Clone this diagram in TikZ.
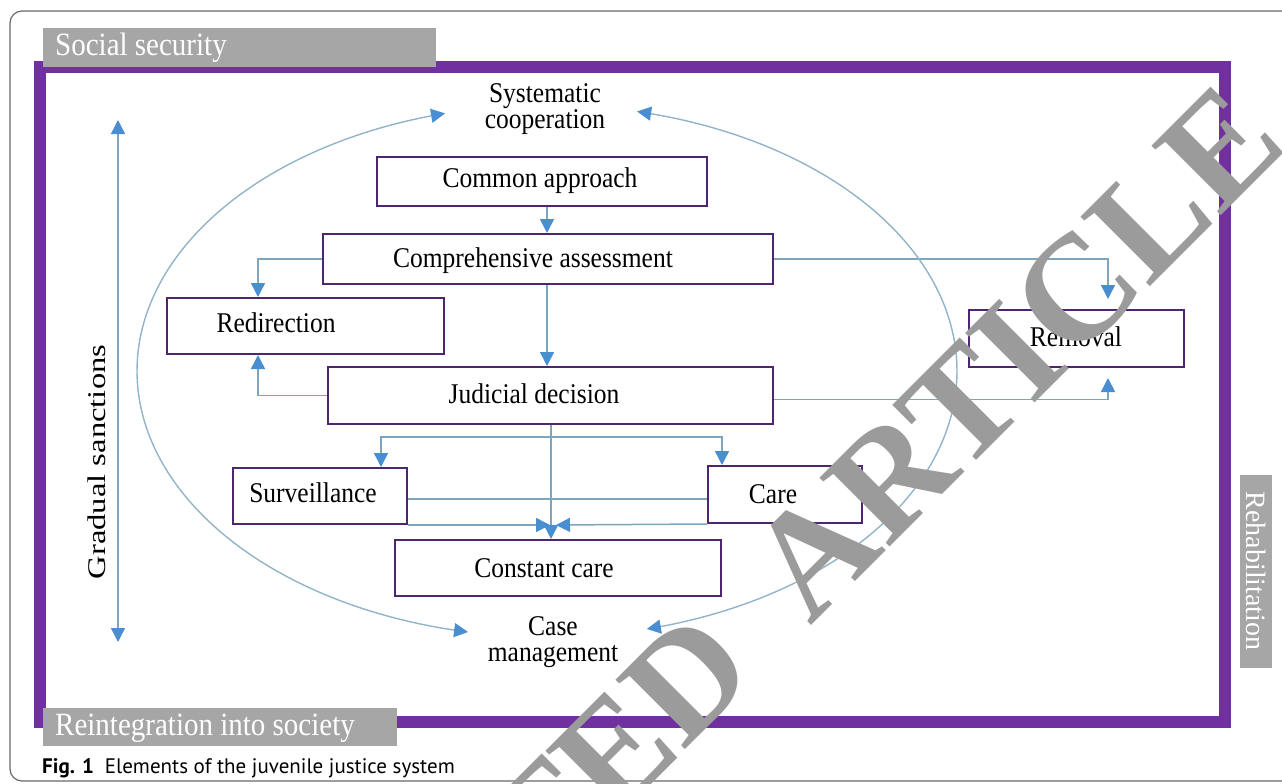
\documentclass[tikz,border=0pt]{standalone}
\usepackage{fontspec}
\usepackage{graphicx}
\setmainfont{Liberation Serif}
\newfontfamily\capfont{PT Sans}
\usetikzlibrary{arrows.meta,calc}
\definecolor{frameP}{RGB}{112,48,160}
\definecolor{boxP}{RGB}{78,38,112}
\definecolor{lineB}{RGB}{125,165,190}
\definecolor{ellB}{RGB}{145,180,200}
\definecolor{tipB}{RGB}{72,142,208}
\definecolor{labG}{RGB}{166,166,166}
\definecolor{wmG}{RGB}{155,155,155}
\definecolor{borderG}{RGB}{105,105,105}
\newcommand\tallt[1]{\scalebox{1}[1.12]{#1}}
\newcommand\twol[2]{\tallt{\begin{tabular}{@{}c@{}}#1\\#2\end{tabular}}}
\begin{document}
\begin{tikzpicture}[x=1pt,y=-1pt,
  box/.style={draw=boxP, line width=2pt, fill=white, inner sep=0pt},
  tipA/.tip={Triangle[length=14pt,width=14pt,color=tipB]},
  conn/.style={draw=lineB, line width=1.5pt, -tipA},
  plain/.style={draw=lineB, line width=1.5pt},
  dbl/.style={draw=lineB, line width=1.5pt, tipA-tipA},
  ell/.style={draw=ellB, line width=1.4pt, tipA-tipA},
  txt/.style={font=\fontsize{25.5}{23.5}\selectfont, align=center, inner sep=0pt},
  labbox/.style={fill=labG, draw=none, inner sep=0pt},
  labtxt/.style={text=white, font=\fontsize{29}{30}\selectfont, inner sep=0pt},
  wmark/.style={font=\fontsize{150}{150}\selectfont\bfseries, text=wmG, rotate=45, inner sep=0pt}
]
\useasboundingbox (0,0) rectangle (1282,784);
\begin{scope}
\clip (0,0) rectangle (1282,784);
% figure border
\draw[borderG, line width=1.2pt, rounded corners=12pt] (10,11) rectangle (1310,781);
% purple frame
\draw[frameP, line width=12pt] (39.5,67.5) rectangle (1224.5,721.5);
% gray labels
\node[labbox, anchor=north west, minimum width=393pt, minimum height=39pt] (ssb) at (43,28) {};
\node[labtxt, anchor=west] (ss) at (55,48) {\tallt{Social security}};
\node[labbox, anchor=north west, minimum width=354pt, minimum height=38pt] (rib) at (43,708) {};
\node[labtxt, anchor=west] (ri) at (55,728) {\tallt{Reintegration into society}};
\node[labbox, anchor=north west, minimum width=32pt, minimum height=193pt] (rhb) at (1240,475) {};
\node[labtxt, font=\fontsize{28}{29}\selectfont, rotate=-90] (rh) at (1256,571) {Rehabilitation};

% free texts
\node[txt] (sc) at (545,110) {\twol{Systematic}{cooperation}};
\node[txt] (cm) at (553,643) {\twol{Case}{management}};
\node[txt, rotate=90] (gs) at (97,462) {\scalebox{1.28}[1]{Gradual sanctions}};

% boxes
\node[box, minimum width=330pt, minimum height=49pt] (ca) at (542,181.5) {};
\node[txt] at (540,181) {\tallt{Common approach}};
\node[box, minimum width=450pt, minimum height=50pt] (cass) at (548,259) {};
\node[txt] at (533,261) {\tallt{Comprehensive assessment}};
\node[box, minimum width=277pt, minimum height=56pt] (red) at (305.5,326) {};
\node[txt] at (276,323) {\tallt{Redirection}};
\node[box, minimum width=215pt, minimum height=57pt] (rem) at (1076.5,338.5) {};
\node[txt] at (1076,337) {\tallt{Removal}};
\node[box, minimum width=445pt, minimum height=57pt] (jd) at (550.5,395.5) {};
\node[txt] at (534,394) {\tallt{Judicial decision}};
\node[box, minimum width=174pt, minimum height=56pt] (sur) at (320,496) {};
\node[txt] at (313,493) {\tallt{Surveillance}};
\node[box, minimum width=154pt, minimum height=57pt] (care) at (785,494.5) {};
\node[txt] at (773,494) {\tallt{Care}};
\node[box, minimum width=326pt, minimum height=56pt] (cc) at (558,568) {};
\node[txt] at (544,568) {\tallt{Constant care}};

% helper coordinates
\coordinate (v1) at (547,0);
\coordinate (v2) at (551,0);
\coordinate (xr) at (258,0);
\coordinate (xm) at (1108,0);
\coordinate (split) at (551,437);
\coordinate (xs) at (381,0);
\coordinate (xc) at (722,0);
\coordinate (ym) at (0,499);
\coordinate (ccL) at (550,525);
\coordinate (ccR) at (556,525);
\coordinate (gsT) at (118,120);
\coordinate (gsB) at (118,642);

% connectors
\draw[conn] (ca.south -| v1) -- (cass.north -| v1);
\draw[conn] (cass.south -| v1) -- (jd.north -| v1);
\draw[conn] (cass.west) -| (xr |- red.north);
\draw[conn] (jd.west) -| (xr |- red.south);
\draw[conn, shorten >=10pt] (cass.east) -| (xm |- rem.north);
\draw[conn, shorten >=10pt] ($(jd.east)+(0,4)$) -| (xm |- rem.south);
\draw[conn] (jd.south -| v2) -- (cc.north -| v2);
\draw[conn] (split) -| (xs |- sur.north);
\draw[conn] (split) -| (xc |- care.north);
\draw[plain] (sur.east |- ym) -- (care.west |- ym);
\draw[conn] (sur.south east) -- (ccL);
\draw[conn] (care.south west) -- (ccR);
\draw[dbl] (gsT) -- (gsB);

% ellipse arcs
\draw[ell] plot[smooth, domain=104.4:258.9, samples=80] ({547+410*cos(\x)},{371-266*sin(\x)});
\draw[ell] plot[smooth, domain=77.3:-75.9, samples=80] ({547+410*cos(\x)},{371-266*sin(\x)});

% caption
\node[anchor=base west, font=\capfont\fontsize{21}{22}\selectfont, inner sep=0pt] (cap) at (42,773) {\textbf{Fig. 1}\hspace{11pt}Elements of the juvenile justice system};

% watermark
\node[wmark] (wm1) at (393,973) {RETRACTED};
\node[wmark] (wm2) at (1016,352) {ARTICLE};
\end{scope}
\end{tikzpicture}
\end{document}
